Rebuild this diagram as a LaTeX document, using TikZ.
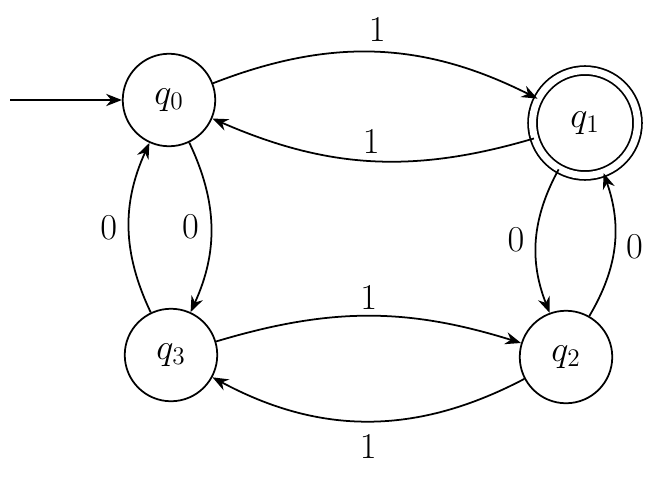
\documentclass[tikz,border=0pt]{standalone}
\usepackage{amsmath,amssymb}
\usetikzlibrary{arrows.meta}

\begin{document}
\begin{tikzpicture}[every node/.style={font=\huge}, state/.style={circle, draw, line width=1pt, minimum size=1.85cm, inner sep=0pt}, accept/.style={state, double, double distance=4pt, minimum size=2.1cm}, trans/.style={-{Stealth[length=9pt,width=7pt]}, line width=1pt}]
	\useasboundingbox (0,0) rectangle (13.2,9.66);
	\node[state] (q0) at (3.38,7.66) {$q_0$};
	\node[accept] (q1) at (11.7,7.2) {$q_1$};
	\node[state] (q3) at (3.42,2.56) {$q_3$};
	\node[state] (q2) at (11.32,2.52) {$q_2$};
	\coordinate (start) at (0.2,7.66);
	\draw[trans] (start) -- (q0);
	\draw[trans] (q0) to[bend left=24] node[above=2pt] {$1$} (q1);
	\draw[trans] (q1) to[bend left=20] node[above] {$1$} (q0);
	\draw[trans] (q3) to[bend left=25] node[left=3pt] {$0$} (q0);
	\draw[trans] (q0) to[bend left=25] node[left=3pt] {$0$} (q3);
	\draw[trans] (q1) to[bend right=25] node[left=3pt] {$0$} (q2);
	\draw[trans] (q2) to[bend right=25] node[right=3pt] {$0$} (q1);
	\draw[trans] (q3) to[bend left=17] node[above] {$1$} (q2);
	\draw[trans] (q2) to[bend left=28] node[below=4pt] {$1$} (q3);
\end{tikzpicture}
\end{document}
